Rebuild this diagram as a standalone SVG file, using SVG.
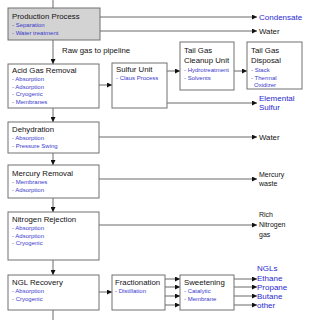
<svg xmlns="http://www.w3.org/2000/svg" width="320" height="320" viewBox="0 0 320 320">
<style>
.box{fill:#fff;stroke:#707070;stroke-width:1}
.gray{fill:#d3d3d3}
.t{font-family:"Liberation Sans",Arial,sans-serif;font-size:7.8px;fill:#111}
.s{font-family:"Liberation Sans",Arial,sans-serif;font-size:6px;fill:#3a3acc}
.o{font-family:"Liberation Sans",Arial,sans-serif;font-size:7.8px;fill:#111}
.os{font-family:"Liberation Sans",Arial,sans-serif;font-size:7px;fill:#111}
.ob{font-family:"Liberation Sans",Arial,sans-serif;font-size:8px;fill:#2a2ad0}
.c{stroke:#6a6a6a;stroke-width:1;fill:none}
.a{marker-end:url(#ar)}
</style>
<defs>
<marker id="ar" viewBox="0 0 10 10" refX="10" refY="5" markerWidth="6" markerHeight="5" markerUnits="userSpaceOnUse" orient="auto">
<path d="M0,0L10,5L0,10z" fill="#111"/>
</marker>
</defs>
<g id="connectors">
<line class="c" x1="53" y1="0" x2="53" y2="8"/>
<line class="c a" x1="100" y1="17" x2="257" y2="17"/>
<line class="c a" x1="100" y1="31" x2="257" y2="31"/>
<line class="c a" x1="53" y1="40" x2="53" y2="64"/>
<line class="c a" x1="99" y1="85" x2="112" y2="85"/>
<line class="c a" x1="167" y1="71" x2="180" y2="71"/>
<line class="c a" x1="234" y1="71" x2="247" y2="71"/>
<line class="c a" x1="167" y1="103" x2="257" y2="103"/>
<line class="c a" x1="53" y1="108" x2="53" y2="122"/>
<line class="c a" x1="99" y1="137" x2="257" y2="137"/>
<line class="c a" x1="53" y1="153" x2="53" y2="165"/>
<line class="c a" x1="99" y1="179" x2="257" y2="179"/>
<line class="c a" x1="53" y1="198" x2="53" y2="212"/>
<line class="c a" x1="99" y1="225" x2="257" y2="225"/>
<line class="c a" x1="53" y1="260" x2="53" y2="275"/>
<line class="c a" x1="99" y1="292" x2="112" y2="292"/>
<line class="c" x1="53" y1="310" x2="53" y2="320"/>
<line class="c a" x1="165" y1="279" x2="180" y2="279"/>
<line class="c a" x1="165" y1="287" x2="180" y2="287"/>
<line class="c a" x1="165" y1="296" x2="180" y2="296"/>
<line class="c a" x1="165" y1="305" x2="180" y2="305"/>
<line class="c a" x1="234" y1="279" x2="257" y2="279"/>
<line class="c a" x1="234" y1="287" x2="257" y2="287"/>
<line class="c a" x1="234" y1="296" x2="257" y2="296"/>
<line class="c a" x1="234" y1="305" x2="257" y2="305"/>
<text class="o" x="62" y="53">Raw gas to pipeline</text>
</g>
<g id="production">
<rect class="box gray" x="8" y="8" width="92" height="32"/>
<text class="t" x="12" y="19">Production Process</text>
<text class="s" x="12" y="27">- Separation</text>
<text class="s" x="12" y="34.5">- Water treatment</text>
</g>
<g id="acid">
<rect class="box" x="8" y="64" width="91" height="44"/>
<text class="t" x="12" y="73">Acid Gas Removal</text>
<text class="s" x="12" y="81">- Absorption</text>
<text class="s" x="12" y="88.5">- Adsorption</text>
<text class="s" x="12" y="96">- Cryogenic</text>
<text class="s" x="12" y="103.5">- Membranes</text>
</g>
<g id="sulfur">
<rect class="box" x="112" y="63" width="55" height="45"/>
<text class="t" x="116" y="72">Sulfur Unit</text>
<text class="s" x="116" y="80">- Claus Process</text>
</g>
<g id="tailcleanup">
<rect class="box" x="180" y="42" width="54" height="48"/>
<text class="t" x="184" y="53">Tail Gas</text>
<text class="t" x="184" y="63">Cleanup Unit</text>
<text class="s" x="184" y="72">- Hydrotreatment</text>
<text class="s" x="184" y="79.5">- Solvents</text>
</g>
<g id="taildisposal">
<rect class="box" x="247" y="42" width="55" height="47"/>
<text class="t" x="251" y="53">Tail Gas</text>
<text class="t" x="251" y="63">Disposal</text>
<text class="s" x="251" y="72">- Stack</text>
<text class="s" x="251" y="79.5">- Thermal</text>
<text class="s" x="254" y="87">Oxidizer</text>
</g>
<g id="dehydration">
<rect class="box" x="8" y="122" width="91" height="31"/>
<text class="t" x="12" y="132">Dehydration</text>
<text class="s" x="12" y="140">- Absorption</text>
<text class="s" x="12" y="147.5">- Pressure Swing</text>
</g>
<g id="mercury">
<rect class="box" x="8" y="165" width="91" height="33"/>
<text class="t" x="12" y="176">Mercury Removal</text>
<text class="s" x="12" y="184">- Membranes</text>
<text class="s" x="12" y="191.5">- Adsorption</text>
</g>
<g id="nitrogen">
<rect class="box" x="8" y="212" width="91" height="48"/>
<text class="t" x="12" y="222">Nitrogen Rejection</text>
<text class="s" x="12" y="230">- Absorption</text>
<text class="s" x="12" y="237.5">- Adsorption</text>
<text class="s" x="12" y="245">- Cryogenic</text>
</g>
<g id="ngl">
<rect class="box" x="8" y="275" width="91" height="35"/>
<text class="t" x="12" y="285">NGL Recovery</text>
<text class="s" x="12" y="293">- Absorption</text>
<text class="s" x="12" y="300.5">- Cryogenic</text>
</g>
<g id="fractionation">
<rect class="box" x="112" y="275" width="53" height="35"/>
<text class="t" x="115" y="285">Fractionation</text>
<text class="s" x="115" y="293">- Distillation</text>
</g>
<g id="sweetening">
<rect class="box" x="180" y="275" width="54" height="35"/>
<text class="t" x="184" y="285">Sweetening</text>
<text class="s" x="184" y="293">- Catalytic</text>
<text class="s" x="184" y="300.5">- Membrane</text>
</g>
<g id="outputs">
<text class="ob" x="259" y="20">Condensate</text>
<text class="o" x="259" y="34">Water</text>
<text class="ob" x="259" y="101">Elemental</text>
<text class="ob" x="259" y="110">Sulfur</text>
<text class="o" x="259" y="140">Water</text>
<text class="os" x="259" y="177">Mercury</text>
<text class="os" x="259" y="186">waste</text>
<text class="os" x="259" y="217">Rich</text>
<text class="os" x="259" y="227">Nitrogen</text>
<text class="os" x="259" y="237">gas</text>
<text class="ob" x="257" y="271">NGLs</text>
<text class="ob" x="257" y="281">Ethane</text>
<text class="ob" x="257" y="290">Propane</text>
<text class="ob" x="257" y="299">Butane</text>
<text class="ob" x="257" y="308">other</text>
</g>
</svg>
